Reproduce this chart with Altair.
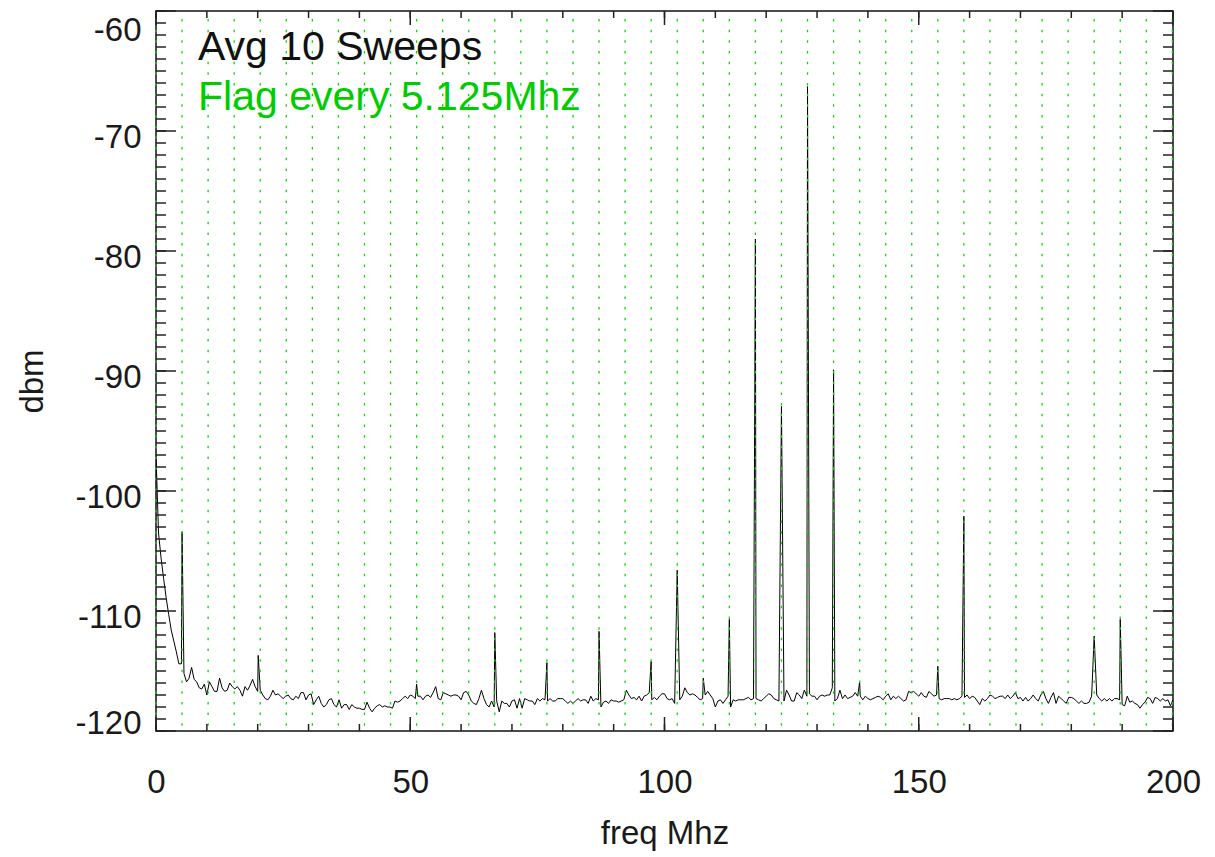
import altair as alt
import pandas as pd

W, H = 1017, 720
FONT = "Liberation Sans"
INK = "#1a1a1a"
GREEN_LINE = "#00dd00"
GREEN_TEXT = "#00cc00"

# ---- spectrum floor, one value every 0.5 MHz from 0 to 200 MHz ----
freq_step = 0.5
floor_dbm = [
    # 0.0 - 9.5
    -97.0, -103.5, -105.6, -107.3, -108.9, -110.3, -111.6, -112.5, -113.4, -114.4,
    -114.4, -115.2, -115.9, -115.6, -114.7, -115.7, -115.9, -116.4, -116.5, -116.1,
    # 10.0 - 19.5
    -117.0, -115.9, -116.3, -116.7, -116.7, -115.6, -116.4, -116.7, -116.6, -116.0,
    -116.3, -116.5, -116.3, -116.6, -117.1, -116.3, -116.6, -116.2, -115.7, -116.3,
    # 20.0 - 29.5
    -116.7, -116.6, -117.0, -117.3, -117.4, -117.1, -116.6, -117.0, -116.9, -117.1,
    -117.3, -117.1, -117.0, -117.3, -117.4, -117.1, -117.3, -116.8, -116.8, -117.4,
    # 30.0 - 39.5
    -117.0, -116.9, -117.8, -117.4, -117.1, -117.7, -118.0, -117.8, -117.4, -117.3,
    -117.8, -118.0, -117.4, -118.1, -117.8, -117.8, -118.2, -117.8, -118.0, -118.1,
    # 40.0 - 49.5
    -118.1, -118.2, -118.2, -117.6, -118.1, -118.4, -118.1, -117.9, -117.8, -118.0,
    -117.9, -118.0, -118.0, -118.1, -117.5, -117.6, -117.5, -117.3, -117.1, -117.3,
    # 50.0 - 59.5
    -117.0, -117.1, -117.3, -117.1, -117.1, -117.4, -117.1, -117.0, -117.2, -116.8,
    -116.3, -117.3, -117.4, -116.8, -116.9, -117.0, -117.1, -117.0, -117.0, -117.1,
    # 60.0 - 69.5
    -117.4, -116.8, -116.7, -117.0, -117.5, -117.7, -117.8, -117.3, -116.6, -117.3,
    -117.8, -118.0, -117.5, -118.0, -117.5, -118.4, -117.5, -117.7, -117.7, -118.0,
    # 70.0 - 79.5
    -117.5, -117.4, -118.1, -117.3, -118.1, -117.3, -117.4, -117.5, -117.5, -117.8,
    -117.3, -117.5, -117.3, -117.4, -117.5, -117.3, -117.5, -117.5, -117.3, -117.3,
    # 80.0 - 89.5
    -117.3, -117.5, -117.7, -117.5, -117.7, -117.5, -117.3, -117.5, -117.4, -117.4,
    -117.7, -117.1, -117.5, -117.3, -117.4, -118.0, -117.6, -117.5, -117.7, -117.4,
    # 90.0 - 99.5
    -117.5, -117.5, -117.6, -117.5, -117.4, -116.6, -117.0, -117.3, -117.2, -117.4,
    -117.1, -117.5, -117.1, -117.0, -116.8, -117.4, -117.2, -117.4, -117.1, -116.9,
    # 100.0 - 109.5
    -116.9, -117.3, -117.4, -117.3, -117.7, -117.3, -117.4, -117.1, -116.4, -116.8,
    -117.0, -116.9, -117.0, -117.2, -117.4, -117.3, -117.0, -116.7, -117.0, -117.3,
    # 110.0 - 119.5
    -118.0, -117.5, -117.4, -117.7, -117.4, -117.1, -118.0, -117.4, -117.5, -117.4,
    -117.4, -117.4, -117.3, -117.2, -117.4, -117.3, -117.3, -117.4, -117.5, -117.3,
    # 120.0 - 129.5
    -117.1, -116.9, -117.0, -117.3, -117.4, -117.5, -117.0, -117.5, -116.6, -117.0,
    -117.5, -117.5, -116.8, -117.0, -117.3, -116.6, -117.1, -116.9, -117.1, -117.1,
    # 130.0 - 139.5
    -117.4, -117.1, -117.0, -117.1, -117.0, -117.0, -116.4, -117.5, -117.3, -116.6,
    -117.3, -117.0, -117.3, -117.2, -117.1, -116.8, -117.1, -117.1, -117.4, -117.1,
    # 140.0 - 149.5
    -117.3, -117.4, -117.3, -117.2, -117.1, -117.2, -117.4, -117.1, -116.9, -117.4,
    -117.1, -117.3, -117.1, -117.3, -117.5, -117.4, -116.7, -116.8, -116.7, -116.9,
    # 150.0 - 159.5
    -117.1, -116.8, -117.1, -117.2, -116.7, -116.9, -117.1, -117.0, -117.3, -117.4,
    -117.3, -117.3, -117.3, -117.4, -117.3, -117.4, -117.3, -117.1, -117.2, -117.0,
    # 160.0 - 169.5
    -117.3, -117.1, -117.2, -117.5, -117.8, -117.3, -117.5, -117.3, -117.0, -117.1,
    -117.3, -117.2, -117.1, -117.1, -117.3, -117.0, -117.3, -117.1, -116.8, -117.3,
    # 170.0 - 179.5
    -117.2, -117.5, -117.2, -117.5, -117.3, -117.0, -117.3, -117.5, -117.0, -116.7,
    -117.3, -117.7, -117.2, -116.8, -117.7, -117.1, -117.3, -117.5, -117.7, -117.2,
    # 180.0 - 189.5
    -117.2, -117.3, -117.5, -117.7, -117.5, -117.7, -117.7, -117.6, -117.1, -117.3,
    -117.0, -117.3, -117.5, -117.3, -117.5, -117.3, -117.5, -117.3, -117.3, -117.4,
    # 190.0 - 199.5
    -117.8, -117.9, -117.1, -117.6, -117.5, -117.7, -117.8, -118.1, -117.8, -117.6,
    -117.2, -117.3, -117.7, -117.2, -117.3, -117.5, -117.3, -117.5, -117.4, -117.9,
    # 200.0
    -117.4,
]
freq_grid = [i * freq_step for i in range(len(floor_dbm))]

# ---- spurs ----
peak_freq = [5.125, 20.1, 51.25, 66.625, 76.875, 87.125, 97.375, 102.5, 107.625,
             112.75, 117.875, 123.0, 128.125, 133.25, 138.375, 153.75, 158.875,
             184.5, 189.625]
peak_dbm = [-103.4, -113.7, -116.1, -111.8, -114.3, -111.7, -114.2, -106.6, -115.6,
            -110.7, -79.0, -92.95, -66.3, -89.9, -115.9, -114.6, -102.1,
            -112.1, -110.7]

# ---- flag markers every 5.125 MHz ----
flag_step = 5.125
flag_freq = [flag_step * k for k in range(0, 40)]

# ---- axis ticks / labels ----
x_major = [0, 50, 100, 150, 200]
x_minor = list(range(0, 201, 10))
y_major = [-120, -110, -100, -90, -80, -70, -60]
y_minor = list(range(-120, -59, 1))

title_lines = ["Avg 10 Sweeps"]
flag_lines = ["Flag every 5.125Mhz"]

points = {f: d for f, d in zip(freq_grid, floor_dbm)}
for f, d in zip(peak_freq, peak_dbm):
    points[f] = d
trace_df = pd.DataFrame(sorted(points.items()), columns=["freq", "dbm"])

xscale = alt.Scale(domain=[0, 200], nice=False, zero=False)
yscale = alt.Scale(domain=[-120, -60], nice=False, zero=False)

x_axis = alt.Axis(
    values=x_major, ticks=False, tickSize=0, domain=False, grid=False,
    labelFont=FONT, labelFontSize=33, labelColor=INK, labelPadding=61,
    labelBaseline="alphabetic", labelFlush=False, labelOverlap=False, labelBound=False,
    title="freq Mhz", titleFont=FONT, titleFontSize=33, titleFontWeight="normal",
    titleColor=INK, titleBaseline="alphabetic", titleY=112, titleX=W / 2,
    titleAlign="center",
)
y_axis = alt.Axis(
    values=y_major, ticks=False, tickSize=0, domain=False, grid=False,
    labelExpr="(datum.value < 0 ? '-' : '') + abs(datum.value)",
    labelFont=FONT, labelFontSize=33, labelColor=INK, labelPadding=15,
    labelAlign="right", labelBaseline="alphabetic", labelFlush=False,
    labelOverlap=False, labelBound=False,
    labelOffset={"condition": [{"test": "datum.value == -120", "value": 2},
                               {"test": "datum.value == -60", "value": 29}],
                 "value": 16},
    title="dbm", titleFont=FONT, titleFontSize=33, titleFontWeight="normal",
    titleColor=INK, titleAngle=270, titleBaseline="alphabetic", titleX=-114,
    titleY=370, titleAlign="center",
)


def X(field="freq"):
    return alt.X(f"{field}:Q", scale=xscale, axis=x_axis, title="freq Mhz")


def Y(field="dbm"):
    return alt.Y(f"{field}:Q", scale=yscale, axis=y_axis, title="dbm")


trace = alt.Chart(trace_df).mark_line(color="black", strokeWidth=1, clip=True).encode(
    x=X(), y=Y(),
)

flags = alt.Chart(pd.DataFrame({"freq": flag_freq})).mark_rule(
    color=GREEN_LINE, strokeWidth=1.3, strokeDash=[2.5, 8.17], strokeDashOffset=2.67
).encode(
    x=X(), y=alt.value(0), y2=alt.value(H),
)


def ytick(vals, x0, x1):
    return alt.Chart(pd.DataFrame({"dbm": vals})).mark_rule(color="#222", strokeWidth=1.5).encode(
        y=Y(), x=alt.value(x0), x2=alt.value(x1))


def xtick(vals, y0, y1):
    return alt.Chart(pd.DataFrame({"freq": vals})).mark_rule(color="#222", strokeWidth=1.5).encode(
        x=X(), y=alt.value(y0), y2=alt.value(y1))


ticks = [
    ytick(y_major, 0, 20), ytick(y_minor, 0, 10),
    ytick(y_major, W - 20, W), ytick(y_minor, W - 10, W),
    xtick(x_major, H - 14, H), xtick(x_minor, H - 7, H),
    xtick(x_major, 0, 14), xtick(x_minor, 0, 7),
]

txt1 = alt.Chart(pd.DataFrame({"label": title_lines})).mark_text(
    align="left", baseline="alphabetic", font=FONT, fontSize=41, color="#111"
).encode(text="label:N", x=alt.value(42), y=alt.value(49))
txt2 = alt.Chart(pd.DataFrame({"label": flag_lines})).mark_text(
    align="left", baseline="alphabetic", font=FONT, fontSize=41, color=GREEN_TEXT
).encode(text="label:N", x=alt.value(42), y=alt.value(99))

chart = alt.layer(trace, flags, *ticks, txt1, txt2).properties(
    width=W, height=H,
    padding={"left": 148, "top": 3, "right": 34, "bottom": 122},
    autosize=alt.AutoSizeParams(type="none"),
).configure_view(stroke="#111", strokeWidth=1.5)

chart.save("out.html", embed_options={"renderer": "svg", "actions": False})
